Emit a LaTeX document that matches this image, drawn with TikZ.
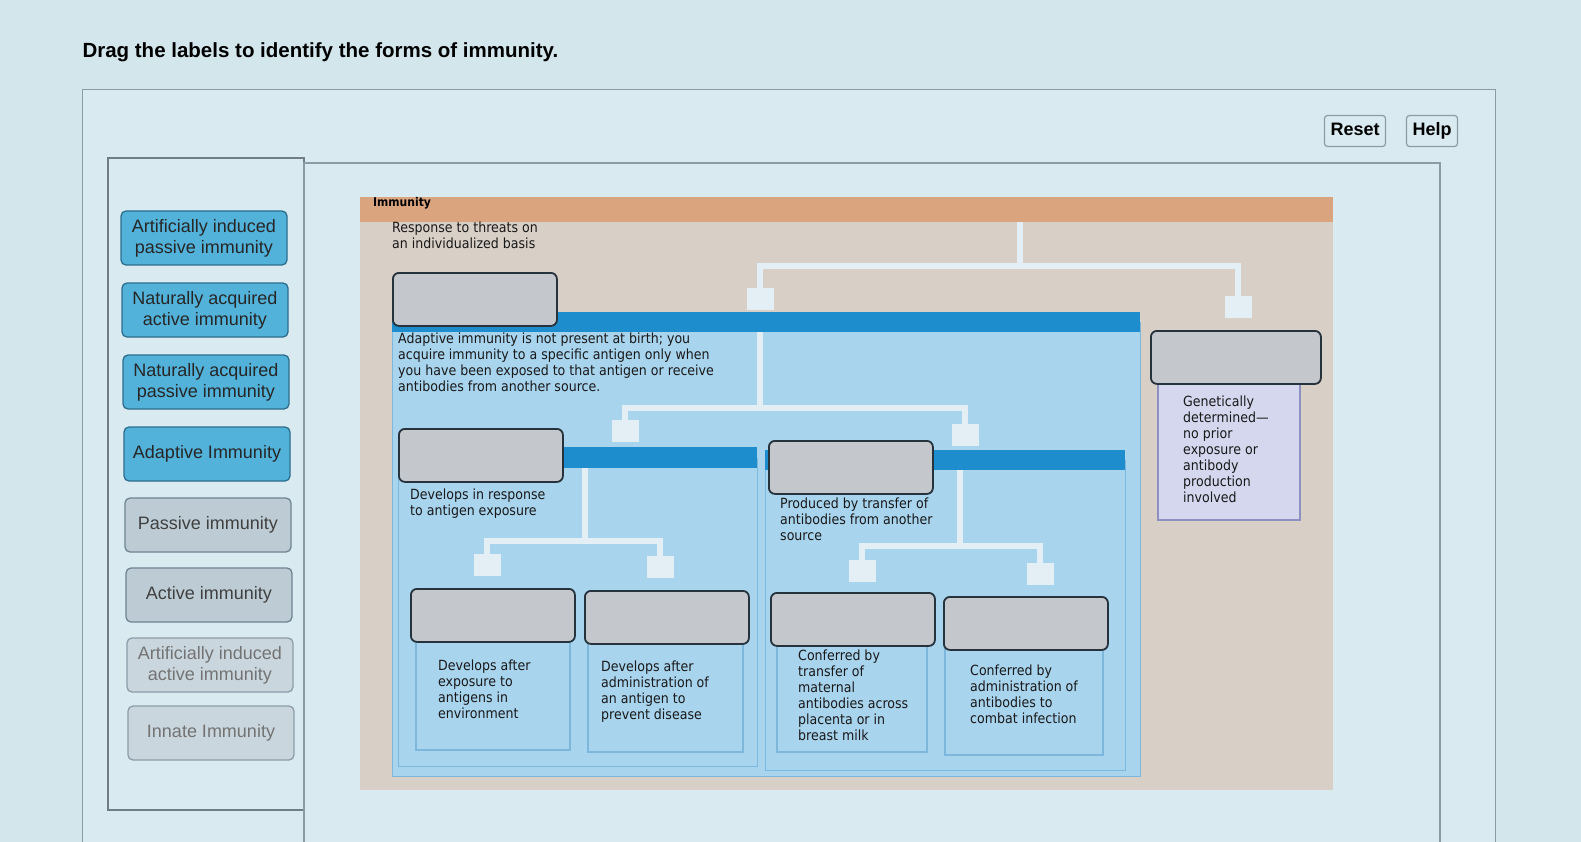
\documentclass[tikz,border=0pt]{standalone}
\usepackage{fontspec}
\setmainfont{Liberation Sans}
\newfontfamily\descfont[FakeStretch=0.9]{DejaVu Sans}
\usetikzlibrary{positioning}

\definecolor{screenbg}{HTML}{D2E6EC}
\definecolor{panelbg}{HTML}{D9EBF0}
\definecolor{panelline}{HTML}{8C9CA6}
\definecolor{tagblue}{HTML}{52B2DA}
\definecolor{tagblueline}{HTML}{2C6E8E}
\definecolor{taggray}{HTML}{BDCCD4}
\definecolor{taggrayline}{HTML}{6F8392}
\definecolor{headorange}{HTML}{D9A47E}
\definecolor{beige}{HTML}{D8D0C6}
\definecolor{adaptbody}{HTML}{A8D4EE}
\definecolor{adaptline}{HTML}{7DB8DC}
\definecolor{barblue}{HTML}{1E8DCE}
\definecolor{dropgray}{HTML}{C4C8CC}
\definecolor{dropline}{HTML}{26323C}
\definecolor{linkfill}{HTML}{E3EFF4}
\definecolor{innatebody}{HTML}{D5D7EF}
\definecolor{innateline}{HTML}{8E90C2}

\tikzset{
  tag/.style={draw, line width=1.3pt, rounded corners=5pt, align=center,
    minimum width=166pt, minimum height=54pt, inner sep=0pt,
    font=\fontsize{18}{21}\selectfont},
  tagb/.style={tag, fill=tagblue, draw=tagblueline, text=black!85},
  tagg/.style={tag, fill=taggray, draw=taggrayline, text=black!75},
  tagpale/.style={tag, fill=taggray!80, draw=taggrayline!80, text=black!55},
  dropbox/.style={draw=dropline, fill=dropgray, line width=1.8pt,
    rounded corners=6pt, anchor=north west, inner sep=0pt,
    minimum width=164pt, minimum height=53pt},
  desc/.style={font=\descfont\fontsize{14}{16}\selectfont, align=left,
    anchor=north west, inner sep=0pt, text=black!90},
  stub/.style={fill=linkfill, minimum width=27pt, minimum height=22pt, inner sep=0pt},
  link/.style={draw=linkfill, line width=6pt},
  btn/.style={draw=panelline, line width=1.2pt, rounded corners=3pt, fill=panelbg,
    font=\bfseries\fontsize{18}{20}\selectfont, inner xsep=6pt,
    text height=13pt, text depth=4pt, minimum height=31pt}
}

\begin{document}
\begin{tikzpicture}[x=1pt, y=-1pt]
\useasboundingbox (0,0) rectangle (1581,842);
\clip (0,0) rectangle (1581,842);
\fill[screenbg] (0,0) rectangle (1581,842);

% page frame and title
\node[anchor=west, font=\bfseries\fontsize{20.5}{24}\selectfont] (title) at (79,52)
  {Drag the labels to identify the forms of immunity.};
\draw[panelline, line width=1pt, fill=panelbg] (82,90) rectangle (1495,860);
\node[btn] (reset) at (1355,131) {Reset};
\node[btn] (help) at (1432,131) {Help};

% label column
\draw[panelline!80!black, line width=1.2pt] (108,158) rectangle (304,810);
\draw[panelline, line width=1.2pt] (304,163) rectangle (1440,860);

\node[tagb] (aip) at (204,238) {Artificially induced\\passive immunity};
\node[tagb] (naa) at (205,310) {Naturally acquired\\active immunity};
\node[tagb] (nap) at (206,382) {Naturally acquired\\passive immunity};
\node[tagb] (adl) at (207,454) {Adaptive Immunity};
\node[tagg] (pal) at (208,525) {Passive immunity};
\node[tagg] (acl) at (209,595) {Active immunity};
\node[tagpale] (aia) at (210,665) {Artificially induced\\active immunity};
\node[tagpale] (inl) at (211,733) {Innate Immunity};

% immunity chart
\fill[beige] (360,197) rectangle (1333,790);
\fill[headorange] (360,197) rectangle (1333,222);
\node[anchor=west, inner sep=0pt, font=\descfont\bfseries\fontsize{12}{14}\selectfont]
  (imm) at (373,203) {Immunity};
\node[desc] (imtext) at (392,222) {Response to threats on\\an individualized basis};

\coordinate (imjoin) at (1020,222);
\coordinate (imfork) at (1020,266);
\node[stub] (sadapt) at (760,299) {};
\node[stub] (sinnate) at (1238,307) {};
\draw[link] (imjoin) -- (imfork);
\draw[link] (imfork) -| (sadapt);
\draw[link] (imfork) -| (sinnate);

% adaptive
\fill[adaptbody, draw=adaptline, line width=1pt] (392,322) rectangle (1140,776);
\fill[barblue] (392,312) rectangle (1140,332);
\node[dropbox] (adapt) at (392,272) {};
\node[desc] (adtext) at (398,333) {Adaptive immunity is not present at birth; you\\acquire immunity to a specific antigen only when\\you have been exposed to that antigen or receive\\antibodies from another source.};

\coordinate (adjoin) at (760,332);
\coordinate (adfork) at (760,408);
\node[stub] (sactive) at (625,431) {};
\node[stub] (spassive) at (965,435) {};
\draw[link] (adjoin) -- (adfork);
\draw[link] (adfork) -| (sactive);
\draw[link] (adfork) -| (spassive);

% active
\fill[adaptbody, draw=adaptline, line width=1pt] (398,458) rectangle (757,766);
\fill[barblue] (398,447) rectangle (757,468);
\node[dropbox] (active) at (398,428) {};
\node[desc] (actext) at (410,489) {Develops in response\\to antigen exposure};

\coordinate (acjoin) at (585,468);
\coordinate (acfork) at (585,541);
\node[stub] (snatact) at (487,565) {};
\node[stub] (sartact) at (660,567) {};
\draw[link] (acjoin) -- (acfork);
\draw[link] (acfork) -| (snatact);
\draw[link] (acfork) -| (sartact);

\draw[adaptline, line width=1.2pt] (416,638) rectangle (570,750);
\draw[adaptline, line width=1.2pt] (588,641) rectangle (743,752);
\node[dropbox] (natact) at (410,588) {};
\node[dropbox] (artact) at (584,590) {};
\node[desc] (natacttext) at (438,660) {Develops after\\exposure to\\antigens in\\environment};
\node[desc] (artacttext) at (601,661) {Develops after\\administration of\\an antigen to\\prevent disease};

% passive
\fill[adaptbody, draw=adaptline, line width=1pt] (765,460) rectangle (1125,770);
\fill[barblue] (765,450) rectangle (1125,470);
\node[dropbox] (passive) at (768,440) {};
\node[desc] (patext) at (780,498) {Produced by transfer of\\antibodies from another\\source};

\coordinate (pajoin) at (960,470);
\coordinate (pafork) at (960,546);
\node[stub] (snatpas) at (862,571) {};
\node[stub] (sartpas) at (1040,574) {};
\draw[link] (pajoin) -- (pafork);
\draw[link] (pafork) -| (snatpas);
\draw[link] (pafork) -| (sartpas);

\draw[adaptline, line width=1.2pt] (777,644) rectangle (927,752);
\draw[adaptline, line width=1.2pt] (945,648) rectangle (1103,755);
\node[dropbox] (natpas) at (770,592) {};
\node[dropbox] (artpas) at (943,596) {};
\node[desc] (natpastext) at (798,650) {Conferred by\\transfer of\\maternal\\antibodies across\\placenta or in\\breast milk};
\node[desc] (artpastext) at (970,665) {Conferred by\\administration of\\antibodies to\\combat infection};

% innate
\fill[innatebody, draw=innateline, line width=1.2pt] (1158,380) rectangle (1300,520);
\node[dropbox, minimum width=170pt] (innate) at (1150,330) {};
\node[desc] (intext) at (1183,396) {Genetically\\determined—\\no prior\\exposure or\\antibody\\production\\involved};
\end{tikzpicture}
\end{document}
